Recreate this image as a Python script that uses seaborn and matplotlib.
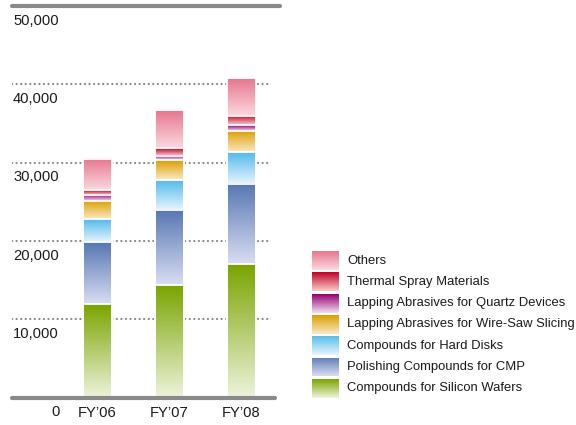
import numpy as np
import pandas as pd
import matplotlib
matplotlib.use("Agg")
import matplotlib.pyplot as plt
import matplotlib.transforms as mtransforms
from matplotlib.colors import LinearSegmentedColormap
import seaborn as sns

# Sales by product line (millions of yen), fiscal years 2006-2008
years = ["FY\u201906", "FY\u201907", "FY\u201908"]
silicon_wafers = [12.0, 14.4, 17.0]
cmp_compounds = [7.9, 9.6, 10.3]
hard_disks = [2.85, 3.8, 4.0]
wire_saw = [2.3, 2.5, 2.75]
quartz = [0.8, 0.6, 0.7]
thermal_spray = [0.6, 1.0, 1.2]
others = [4.0, 4.8, 4.85]

series_names = [
    "Compounds for Silicon Wafers",
    "Polishing Compounds for CMP",
    "Compounds for Hard Disks",
    "Lapping Abrasives for Wire-Saw Slicing",
    "Lapping Abrasives for Quartz Devices",
    "Thermal Spray Materials",
    "Others",
]
series_values = [silicon_wafers, cmp_compounds, hard_disks, wire_saw,
                 quartz, thermal_spray, others]
# (top colour, bottom colour) of each gradient fill
gradients = [
    ("#7aa400", "#eef4dc"),
    ("#5676b2", "#dadef2"),
    ("#52baea", "#e8f5fd"),
    ("#dc9e00", "#fbe9c4"),
    ("#950070", "#f2dff0"),
    ("#c0002c", "#f9cfc6"),
    ("#e6768d", "#fbd9df"),
]
y_ticks = [10000, 20000, 30000, 40000, 50000]
y_labels = ["10,000", "20,000", "30,000", "40,000", "50,000"]

sns.set_style("white")
plt.rcParams["font.family"] = ["Liberation Sans", "DejaVu Sans"]

W, H = 576, 425
fig = plt.figure(figsize=(W / 100, H / 100), dpi=100)
ax = fig.add_axes([12 / W, 27.4 / H, 268 / W, 391.6 / H])

df = pd.DataFrame({"year": years})
cum = np.zeros(len(years))
tops = []
for vals in series_values:
    cum = cum + np.array(vals) * 1000
    tops.append(cum.copy())

# cumulative bars, tallest first, so each layer shows only its own segment
layer_patches = []
for i in range(len(series_values) - 1, -1, -1):
    df["top"] = tops[i]
    n_before = len(ax.patches)
    sns.barplot(data=df, x="year", y="top", width=0.4, ax=ax,
                facecolor="none", edgecolor="white", linewidth=1.3,
                errorbar=None, zorder=4)
    layer_patches.append((i, ax.patches[n_before:]))

for i, patches in layer_patches:
    top_c, bot_c = gradients[i]
    cmap = LinearSegmentedColormap.from_list(f"g{i}", [bot_c, top_c])
    for j, p in enumerate(patches):
        x0 = p.get_x()
        w = p.get_width()
        hi = tops[i][j]
        lo = tops[i - 1][j] if i > 0 else 0
        grad = np.linspace(0, 1, 256).reshape(-1, 1)
        ax.imshow(grad, cmap=cmap, origin="lower", aspect="auto",
                  extent=[x0, x0 + w, lo, hi], zorder=3, interpolation="bilinear")

ax.set_xlim(-(97.5 - 12) / 72, (280 - 97.5) / 72)
ax.set_ylim(0, 50000)
for s in ax.spines.values():
    s.set_visible(False)
ax.set_xticks([])
ax.set_yticks([])
ax.set_xlabel("")
ax.set_ylabel("")

grey = "#8a8a8a"
for t in y_ticks[:-1]:
    ax.axhline(t, xmin=0, xmax=(270 - 12) / 268, color=grey, lw=1.6,
               ls=(0, (0.05, 2.0)), dash_capstyle="round", zorder=1)
ax.axhline(50000, xmin=0, xmax=1.0, color=grey, lw=3.0,
           solid_capstyle="round", zorder=5, clip_on=False)
ax.axhline(0, xmin=0, xmax=(275 - 12) / 268, color=grey, lw=3.0,
           solid_capstyle="round", zorder=5, clip_on=False)

# value labels sit just under each gridline
txt_col = "#1a1a1a"
below = mtransforms.offset_copy(ax.get_yaxis_transform(), fig=fig, x=0, y=-5.5, units="points")
for t, lab in zip(y_ticks, y_labels):
    ax.text(1 / 268, t, lab, transform=below, ha="left", va="top",
            fontsize=10.6, color=txt_col)
ax.text((56 - 12) / 268, 0, "0", transform=below, ha="center", va="top",
        fontsize=10.6, color=txt_col)
under_bar = mtransforms.offset_copy(ax.transData, fig=fig, y=-6, units="points")
for k, yr in enumerate(years):
    ax.text(k, 0, yr, transform=under_bar, ha="center", va="top",
            fontsize=10.6, color=txt_col)

# legend: gradient swatches with labels, top entry first
leg_x0, leg_x1 = 312, 339
for r, i in enumerate(range(len(series_names) - 1, -1, -1)):
    y_top = 251 + r * 21.3
    y_bot = y_top + 19
    lax = fig.add_axes([leg_x0 / W, 1 - y_bot / H, (leg_x1 - leg_x0) / W, 19 / H])
    top_c, bot_c = gradients[i]
    cmap = LinearSegmentedColormap.from_list(f"l{i}", [bot_c, top_c])
    lax.imshow(np.linspace(0, 1, 128).reshape(-1, 1), cmap=cmap, origin="lower",
               aspect="auto", interpolation="bilinear")
    lax.axis("off")
    fig.text(347 / W, 1 - (y_top + 9.5) / H, series_names[i], ha="left", va="center",
             fontsize=9.4, color=txt_col)

fig.savefig("out.png", dpi=100)
